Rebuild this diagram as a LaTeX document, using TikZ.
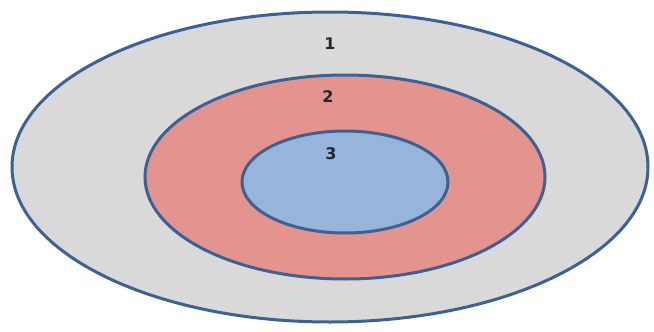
\documentclass[tikz,border=0pt]{standalone}
\usepackage{fontspec}
\setmainfont{DejaVu Sans}
\begin{document}
\definecolor{ring1}{HTML}{D9D9D9}
\definecolor{ring2}{HTML}{E4948E}
\definecolor{ring3}{HTML}{97B5DA}
\definecolor{edge}{HTML}{3D6192}
\begin{tikzpicture}[x=1pt,y=-1pt,
  ringstyle/.style={draw=edge,line width=3pt},
  lbl/.style={font=\fontsize{16}{16}\selectfont\bfseries,text=black!85}]
\useasboundingbox[fill=white] (0,0) rectangle (654,332);
\fill[ring1,ringstyle] (330,167) ellipse [x radius=318,y radius=155];
\fill[ring2,ringstyle] (345,177) ellipse [x radius=200,y radius=102];
\fill[ring3,ringstyle] (345,182) ellipse [x radius=103,y radius=51];
\node[lbl] (l1) at (330,44) {1};
\node[lbl] (l2) at (328,97) {2};
\node[lbl] (l3) at (331,154) {3};
\end{tikzpicture}
\end{document}
